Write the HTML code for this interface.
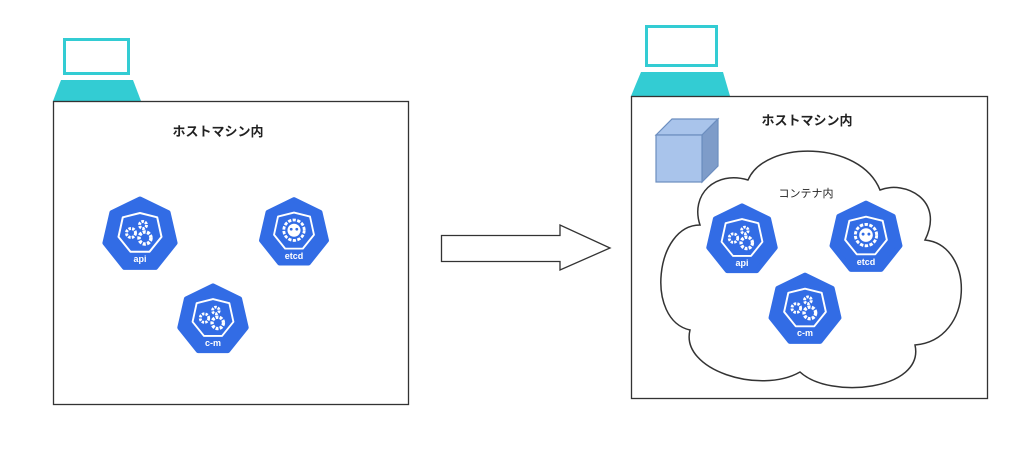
<!DOCTYPE html>
<html><head><meta charset="utf-8"><style>html,body{margin:0;padding:0;background:#fff;width:1024px;height:466px;overflow:hidden}</style></head>
<body>
<svg width="1024" height="466" viewBox="0 0 1024 466" xmlns="http://www.w3.org/2000/svg" font-family="'Liberation Sans','Noto Sans CJK JP',sans-serif">
<defs>
<g id="gears">
<polygon points="0,-36 28.1,-22.4 35.1,8 15.6,32.4 -15.6,32.4 -35.1,8 -28.1,-22.4" fill="#326CE5" stroke="#326CE5" stroke-width="5" stroke-linejoin="round"/>
<polygon points="0,-22 17.2,-17.7 21.5,1.9 9.5,16.8 -9.5,16.8 -21.5,1.9 -17.2,-17.7" fill="none" stroke="#fff" stroke-width="2" stroke-linejoin="round"/>
<circle cx="-9" cy="-2" r="4.5" fill="none" stroke="#fff" stroke-width="3" stroke-dasharray="2.5 1.2"/>
<circle cx="3" cy="-10" r="3.5" fill="none" stroke="#fff" stroke-width="3" stroke-dasharray="2.5 1.2"/>
<circle cx="5" cy="3" r="6" fill="none" stroke="#fff" stroke-width="3.5" stroke-dasharray="3 1.3"/>
</g>
<g id="etcd">
<polygon points="0,-36 28.1,-22.4 35.1,8 15.6,32.4 -15.6,32.4 -35.1,8 -28.1,-22.4" fill="#326CE5" stroke="#326CE5" stroke-width="5" stroke-linejoin="round"/>
<polygon points="0,-22 17.2,-17.7 21.5,1.9 9.5,16.8 -9.5,16.8 -21.5,1.9 -17.2,-17.7" fill="none" stroke="#fff" stroke-width="2" stroke-linejoin="round"/>
<circle cx="0" cy="-3" r="11" fill="none" stroke="#fff" stroke-width="3" stroke-dasharray="3.5 1.5"/>
<circle cx="0" cy="-3" r="7" fill="#fff"/>
<circle cx="-3" cy="-4" r="1.5" fill="#326CE5"/><circle cx="3" cy="-4" r="1.5" fill="#326CE5"/>
</g>
</defs>
<rect x="64.5" y="39.5" width="64" height="34" fill="#fff" stroke="#33CCD3" stroke-width="3"/>
<polygon points="61,80 133,80 141,101 53,101" fill="#33CCD3"/>
<rect x="53.5" y="101.5" width="355" height="303" fill="#fff" stroke="#333" stroke-width="1.3"/>
<text x="218" y="136" font-size="13" font-weight="bold" text-anchor="middle" fill="#222">ホストマシン内</text>
<use href="#gears" x="140" y="235"/><text x="140" y="262" font-size="9" font-weight="bold" fill="#fff" text-anchor="middle">api</text>
<use href="#etcd" transform="translate(294,233) scale(0.93)"/><text x="294" y="259" font-size="9" font-weight="bold" fill="#fff" text-anchor="middle">etcd</text>
<use href="#gears" transform="translate(213,320) scale(0.95)"/><text x="213" y="346" font-size="9" font-weight="bold" fill="#fff" text-anchor="middle">c-m</text>
<polygon points="441.5,235.5 560,235.5 560,225 610,248 560,270 560,261.5 441.5,261.5" fill="#fff" stroke="#333" stroke-width="1.3"/>
<rect x="646.5" y="26.5" width="70" height="39" fill="#fff" stroke="#33CCD3" stroke-width="3"/>
<polygon points="641,72 723,72 730,96 631,96" fill="#33CCD3"/>
<rect x="631.5" y="96.5" width="356" height="302" fill="#fff" stroke="#333" stroke-width="1.3"/>
<text x="807" y="125" font-size="13" font-weight="bold" text-anchor="middle" fill="#222">ホストマシン内</text>
<polygon points="656,135 672,119 718,119 702,135" fill="#A9C4EB" stroke="#6c8ebf" stroke-width="1.2"/>
<polygon points="702,135 718,119 718,166 702,182" fill="#7E9CC9" stroke="#6c8ebf" stroke-width="1.2"/>
<rect x="656" y="135" width="46" height="47" fill="#A9C4EB" stroke="#6c8ebf" stroke-width="1.2"/>
<path d="M700 225 C655 225,645 320,690 330 C680 370,760 395,800 372 C830 400,925 390,915 345 C975 340,975 245,925 240 C945 200,905 180,880 190 C860 140,765 140,748 180 C715 170,690 195,700 225 Z" fill="#fff" stroke="#333" stroke-width="1.5"/>
<text x="806" y="197" font-size="11" text-anchor="middle" fill="#222">コンテナ内</text>
<use href="#gears" transform="translate(742,240) scale(0.95)"/><text x="742" y="266" font-size="9" font-weight="bold" fill="#fff" text-anchor="middle">api</text>
<use href="#etcd" transform="translate(866,238) scale(0.97)"/><text x="866" y="265" font-size="9" font-weight="bold" fill="#fff" text-anchor="middle">etcd</text>
<use href="#gears" transform="translate(805,310) scale(0.97)"/><text x="805" y="336" font-size="9" font-weight="bold" fill="#fff" text-anchor="middle">c-m</text>
</svg>
</body></html>
